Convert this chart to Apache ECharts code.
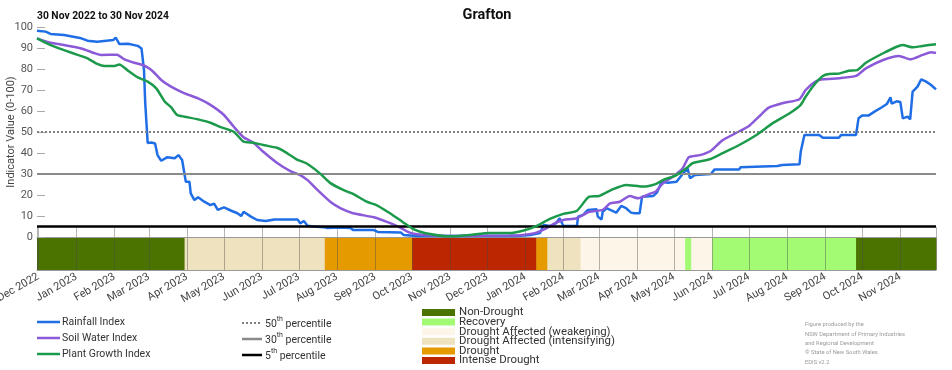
<!DOCTYPE html>
<html><head><meta charset="utf-8">
<script src="https://cdn.jsdelivr.net/npm/echarts@6/dist/echarts.min.js"></script>
<style>html,body{margin:0;padding:0;background:#fff}#c{width:952px;height:370px}</style>
</head><body><div id="c"></div>
<script>
const FONT = 'Roboto, "Liberation Sans", sans-serif';
const chartTitle = 'Grafton';
const periodLabel = '30 Nov 2022 to 30 Nov 2024';
const yAxisTitle = 'Indicator Value (0-100)';
const startDate = '2022-11-30';
const endDate = '2024-11-30';
const monthNames = ['Jan','Feb','Mar','Apr','May','Jun','Jul','Aug','Sep','Oct','Nov','Dec'];
const yTicks = [0, 100, 10];

const rainfall = [['2022-11-30',98.2],['2022-12-07',97.8],['2022-12-11',96.7],['2022-12-22',96.2],['2023-01-05',94.6],['2023-01-10',93.5],['2023-01-18',93.0],['2023-01-31',93.8],['2023-02-02',95.0],['2023-02-05',91.9],['2023-02-12',92.0],['2023-02-20',91.0],['2023-02-23',89.8],['2023-02-25',79.5],['2023-02-26',63.8],['2023-02-28',44.8],['2023-03-03',45.0],['2023-03-06',44.5],['2023-03-08',39.0],['2023-03-11',36.3],['2023-03-16',38.0],['2023-03-22',37.5],['2023-03-25',39.0],['2023-03-28',36.7],['2023-03-31',26.3],['2023-04-03',26.3],['2023-04-04',20.8],['2023-04-07',17.6],['2023-04-10',18.9],['2023-04-15',16.8],['2023-04-20',15.2],['2023-04-23',15.9],['2023-04-26',12.9],['2023-05-01',14.1],['2023-05-07',12.5],['2023-05-12',11.3],['2023-05-15',10.0],['2023-05-17',12.0],['2023-05-23',9.7],['2023-05-28',8.1],['2023-06-04',7.6],['2023-06-11',8.3],['2023-06-30',8.3],['2023-07-02',6.5],['2023-07-05',7.6],['2023-07-08',5.4],['2023-07-13',5.0],['2023-07-21',4.7],['2023-07-24',4.3],['2023-08-04',4.5],['2023-08-12',4.3],['2023-08-14',3.3],['2023-08-31',3.3],['2023-09-03',2.4],['2023-09-22',2.1],['2023-09-24',1.0],['2023-10-05',0.5],['2023-12-25',0.5],['2024-01-05',1.0],['2024-01-13',1.9],['2024-01-16',5.7],['2024-01-21',5.2],['2024-01-26',6.5],['2024-01-29',8.9],['2024-02-01',5.2],['2024-02-12',5.2],['2024-02-13',9.7],['2024-02-17',10.5],['2024-02-21',12.9],['2024-02-28',13.2],['2024-02-29',9.7],['2024-03-03',8.3],['2024-03-04',12.0],['2024-03-07',13.7],['2024-03-15',11.6],['2024-03-19',14.8],['2024-03-23',13.7],['2024-03-27',11.6],['2024-03-30',11.3],['2024-04-03',11.3],['2024-04-05',19.2],['2024-04-14',19.5],['2024-04-17',21.1],['2024-04-21',26.3],['2024-04-26',25.8],['2024-05-03',26.3],['2024-05-08',30.0],['2024-05-12',32.7],['2024-05-14',28.0],['2024-05-18',29.5],['2024-05-31',30.0],['2024-06-03',32.2],['2024-06-23',32.2],['2024-06-24',33.2],['2024-07-24',33.8],['2024-07-28',34.3],['2024-08-11',34.6],['2024-08-12',40.6],['2024-08-15',48.6],['2024-08-27',48.6],['2024-08-30',47.3],['2024-09-12',47.3],['2024-09-14',48.6],['2024-09-26',48.6],['2024-09-28',56.5],['2024-10-01',57.8],['2024-10-06',57.8],['2024-10-11',59.7],['2024-10-17',61.8],['2024-10-21',63.3],['2024-10-24',66.5],['2024-10-25',63.5],['2024-10-29',64.6],['2024-11-01',64.3],['2024-11-03',56.5],['2024-11-07',57.3],['2024-11-09',56.0],['2024-11-11',69.2],['2024-11-15',71.6],['2024-11-18',75.1],['2024-11-22',74.0],['2024-11-26',72.4],['2024-11-30',70.3]];

const soilWater = [['2022-11-30',94.6],['2022-12-11',92.5],['2022-12-22',91.4],['2023-01-05',89.8],['2023-01-16',87.5],['2023-01-21',86.7],['2023-02-03',86.8],['2023-02-09',84.6],['2023-02-17',83.0],['2023-02-24',81.9],['2023-03-03',79.5],['2023-03-11',74.8],['2023-03-19',71.6],['2023-03-30',68.4],['2023-04-10',66.0],['2023-04-20',62.9],['2023-05-01',58.1],['2023-05-09',52.5],['2023-05-17',47.5],['2023-05-25',44.9],['2023-06-02',40.6],['2023-06-13',35.4],['2023-06-24',31.4],['2023-07-02',29.5],['2023-07-08',27.1],['2023-07-16',22.4],['2023-07-27',16.5],['2023-08-04',13.6],['2023-08-14',11.3],['2023-08-31',9.4],['2023-09-10',7.3],['2023-09-21',4.6],['2023-09-29',2.1],['2023-10-10',1.0],['2023-11-01',0.5],['2023-12-19',0.7],['2023-12-30',1.0],['2024-01-10',2.1],['2024-01-18',4.1],['2024-01-26',6.8],['2024-02-01',8.1],['2024-02-12',8.9],['2024-02-22',12.0],['2024-03-04',12.9],['2024-03-10',16.0],['2024-03-18',16.8],['2024-03-26',19.5],['2024-04-02',18.4],['2024-04-11',20.5],['2024-04-16',21.6],['2024-04-22',25.6],['2024-04-30',28.7],['2024-05-08',32.7],['2024-05-13',38.0],['2024-05-22',39.0],['2024-05-31',41.1],['2024-06-09',45.9],['2024-06-20',49.4],['2024-07-01',52.9],['2024-07-09',57.3],['2024-07-17',61.6],['2024-07-28',63.7],['2024-08-11',65.6],['2024-08-16',70.0],['2024-08-24',74.0],['2024-08-30',75.1],['2024-09-12',75.6],['2024-09-26',76.7],['2024-10-04',80.3],['2024-10-18',84.3],['2024-10-31',86.2],['2024-11-09',84.6],['2024-11-19',86.7],['2024-11-26',88.0],['2024-11-30',87.6]];

const plantGrowth = [['2022-11-30',94.6],['2022-12-11',91.4],['2022-12-22',89.0],['2023-01-02',86.7],['2023-01-10',85.1],['2023-01-18',82.4],['2023-01-24',81.4],['2023-02-01',81.4],['2023-02-05',82.2],['2023-02-12',79.2],['2023-02-20',76.0],['2023-02-28',74.0],['2023-03-07',70.8],['2023-03-14',64.4],['2023-03-19',61.8],['2023-03-24',58.1],['2023-03-30',57.3],['2023-04-10',56.0],['2023-04-20',54.4],['2023-04-29',52.2],['2023-05-09',50.1],['2023-05-17',45.4],['2023-05-25',44.9],['2023-06-02',43.8],['2023-06-13',42.5],['2023-06-18',41.1],['2023-06-29',37.0],['2023-07-07',35.1],['2023-07-18',30.3],['2023-07-26',25.9],['2023-08-06',22.4],['2023-08-14',20.5],['2023-08-25',16.8],['2023-09-02',15.2],['2023-09-13',11.3],['2023-09-23',7.3],['2023-10-02',3.7],['2023-10-12',1.8],['2023-11-01',0.3],['2023-11-17',1.0],['2023-12-03',1.9],['2023-12-19',1.9],['2023-12-30',3.0],['2024-01-10',5.2],['2024-01-21',8.6],['2024-02-01',11.0],['2024-02-12',12.5],['2024-02-22',19.2],['2024-03-01',19.5],['2024-03-12',22.7],['2024-03-23',24.8],['2024-04-06',24.0],['2024-04-16',25.2],['2024-04-22',27.1],['2024-05-03',29.5],['2024-05-11',32.7],['2024-05-16',35.1],['2024-05-30',37.0],['2024-06-09',39.8],['2024-06-23',43.8],['2024-07-07',48.6],['2024-07-20',54.1],['2024-08-03',58.9],['2024-08-12',62.9],['2024-08-16',66.8],['2024-08-24',73.2],['2024-08-30',76.7],['2024-09-04',77.6],['2024-09-12',77.8],['2024-09-20',79.2],['2024-09-27',79.5],['2024-10-04',83.0],['2024-10-18',87.5],['2024-10-29',90.6],['2024-11-03',91.4],['2024-11-11',90.3],['2024-11-19',91.0],['2024-11-30',91.8]];

const seriesNames = ['Rainfall Index','Soil Water Index','Plant Growth Index'];
const seriesColors = ['#1f6ee6','#8a5ad9','#1c9a4c'];

const percentileValues = [50, 30, 5];
const percentileNums = ['50','30','5'];
const percentileColors = ['#808080','#8a8a8a','#000000'];

const droughtCategories = ['Non-Drought','Recovery','Drought Affected (weakening)','Drought Affected (intensifying)','Drought','Intense Drought'];
const droughtColors = ['#4b7300','#a2fb72','#fdf5e8','#efe2bf','#e59a00','#bc2600'];
const droughtPeriods = [
  ['2022-11-30','2023-03-30',0],
  ['2023-03-30','2023-07-22',3],
  ['2023-07-22','2023-10-01',4],
  ['2023-10-01','2024-01-10',5],
  ['2024-01-10','2024-01-19',4],
  ['2024-01-19','2024-02-15',3],
  ['2024-02-15','2024-05-10',2],
  ['2024-05-10','2024-05-15',1],
  ['2024-05-15','2024-06-01',2],
  ['2024-06-01','2024-09-26',1],
  ['2024-09-26','2024-11-30',0]
];

const footnoteLines = ['Figure produced by the','NSW Department of Primary Industries','and Regional Development','\u00A9 State of New South Wales','EDIS v2.2'];

const chart = echarts.init(document.getElementById('c'), null, {renderer:'canvas'});

const graphics = [];
seriesNames.forEach((n, i) => {
  const y = 322 + 16 * i;
  graphics.push({type:'line', shape:{x1:37, y1:y, x2:60, y2:y}, style:{stroke:seriesColors[i], lineWidth:2.5}});
  graphics.push({type:'text', x:62, y:y, style:{text:n, fill:'#333', font:'10.5px ' + FONT, verticalAlign:'middle'}});
});
percentileNums.forEach((p, i) => {
  const y = 323 + 16 * i;
  graphics.push({type:'line', shape:{x1:242, y1:y, x2:262, y2:y},
    style:{stroke:percentileColors[i], lineWidth: i === 0 ? 2 : 2.5, lineDash: i === 0 ? [2,2] : null}});
  graphics.push({type:'text', x:265, y:y - 7, style:{
    text:'{n|' + p + '}{s|th}{n| percentile}', fill:'#333',
    rich:{n:{fontSize:10.5, fontFamily:FONT, lineHeight:14, fill:'#333', verticalAlign:'bottom'},
          s:{fontSize:7, fontFamily:FONT, lineHeight:14, fill:'#333', verticalAlign:'top'}}}});
});
droughtCategories.forEach((c, i) => {
  const y = 309 + 9.6 * i;
  graphics.push({type:'rect', shape:{x:422, y:y, width:33, height:7}, style:{fill:droughtColors[i]}});
  graphics.push({type:'text', x:459, y:y + 3.5, style:{text:c, fill:'#333', font:'11.4px ' + FONT, verticalAlign:'middle'}});
});
footnoteLines.forEach((t, i) => {
  graphics.push({type:'text', x:805, y:325 + 9.3 * i, style:{text:t, fill:'#9a9a9a', font:'5.8px ' + FONT, verticalAlign:'middle'}});
});
graphics.push({type:'text', x:37, y:16, style:{text:periodLabel, fill:'#111', font:'bold 10.3px ' + FONT, verticalAlign:'middle'}});
graphics.push({type:'text', x:487, y:15, style:{text:chartTitle, fill:'#111', font:'bold 14.5px ' + FONT, align:'center', verticalAlign:'middle'}});
graphics.push({type:'text', x:11, y:132, rotation: Math.PI / 2, style:{text:yAxisTitle, fill:'#444', font:'11px ' + FONT, align:'center', verticalAlign:'middle'}});

function monthLabel(val) {
  const d = new Date(val);
  if (d.getDate() !== 1) return '';
  return monthNames[d.getMonth()] + ' ' + d.getFullYear();
}

const option = {
  animation: false,
  textStyle: {fontFamily: FONT},
  graphic: graphics,
  grid: [
    {left: 37, right: 16, top: 27, height: 210, outerBoundsMode: 'none', containLabel: false},
    {left: 37, right: 16, top: 227, height: 43, outerBoundsMode: 'none', containLabel: false}
  ],
  xAxis: [
    {type: 'time', gridIndex: 0, min: startDate, max: endDate,
     axisLine: {show: true, lineStyle: {color: '#999', width: 1}}, axisTick: {show: false},
     axisLabel: {show: false}, splitLine: {show: false}},
    {type: 'time', gridIndex: 1, min: startDate, max: endDate,
     minInterval: 28 * 86400000, maxInterval: 31 * 86400000,
     axisLine: {show: true, lineStyle: {color: '#999', width: 1}}, axisTick: {show: false},
     splitLine: {show: true, lineStyle: {color: 'rgba(70,70,70,0.4)', width: 1}},
     axisLabel: {rotate: 30, fontSize: 11, color: '#444', margin: 6, formatter: monthLabel,
                 showMinLabel: true, showMaxLabel: false, hideOverlap: false}}
  ],
  yAxis: [
    {type: 'value', gridIndex: 0, min: yTicks[0], max: yTicks[1], interval: yTicks[2],
     axisLine: {show: false}, axisTick: {show: true, inside: true, length: 8, lineStyle: {color: '#aaa'}},
     axisLabel: {fontSize: 11, color: '#555', margin: 4}, splitLine: {show: false}},
    {type: 'value', gridIndex: 1, min: 0, max: 1, show: false}
  ],
  series: [
    {type: 'custom', xAxisIndex: 1, yAxisIndex: 1, z: -1,
     dimensions: [{name: 'start', type: 'time'}, {name: 'end', type: 'time'}, {name: 'cat', type: 'number'}],
     encode: {x: [0, 1]},
     data: droughtPeriods,
     renderItem: function (params, api) {
       const p0 = api.coord([api.value(0), 0]);
       const p1 = api.coord([api.value(1), 0.75]);
       return {type: 'rect', shape: {x: p0[0], y: p1[1], width: p1[0] - p0[0] + 0.5, height: p0[1] - p1[1]},
               style: {fill: droughtColors[api.value(2)]}};
     }},
    {name: seriesNames[0], type: 'line', data: rainfall, showSymbol: false, symbol: 'none',
     lineStyle: {color: seriesColors[0], width: 2.5}, itemStyle: {color: seriesColors[0]}, z: 3,
     markLine: {silent: true, symbol: 'none', label: {show: false}, animation: false,
       data: percentileValues.map((v, i) => ({yAxis: v, lineStyle: {color: percentileColors[i], width: i === 2 ? 2.5 : 2, type: i === 0 ? [2, 2] : 'solid'}}))}},
    {name: seriesNames[1], type: 'line', data: soilWater, showSymbol: false, symbol: 'none', smooth: 0.2,
     lineStyle: {color: seriesColors[1], width: 2.5}, itemStyle: {color: seriesColors[1]}, z: 4},
    {name: seriesNames[2], type: 'line', data: plantGrowth, showSymbol: false, symbol: 'none', smooth: 0.2,
     lineStyle: {color: seriesColors[2], width: 2.5}, itemStyle: {color: seriesColors[2]}, z: 5}
  ]
};
chart.setOption(option);
</script>
</body></html>
